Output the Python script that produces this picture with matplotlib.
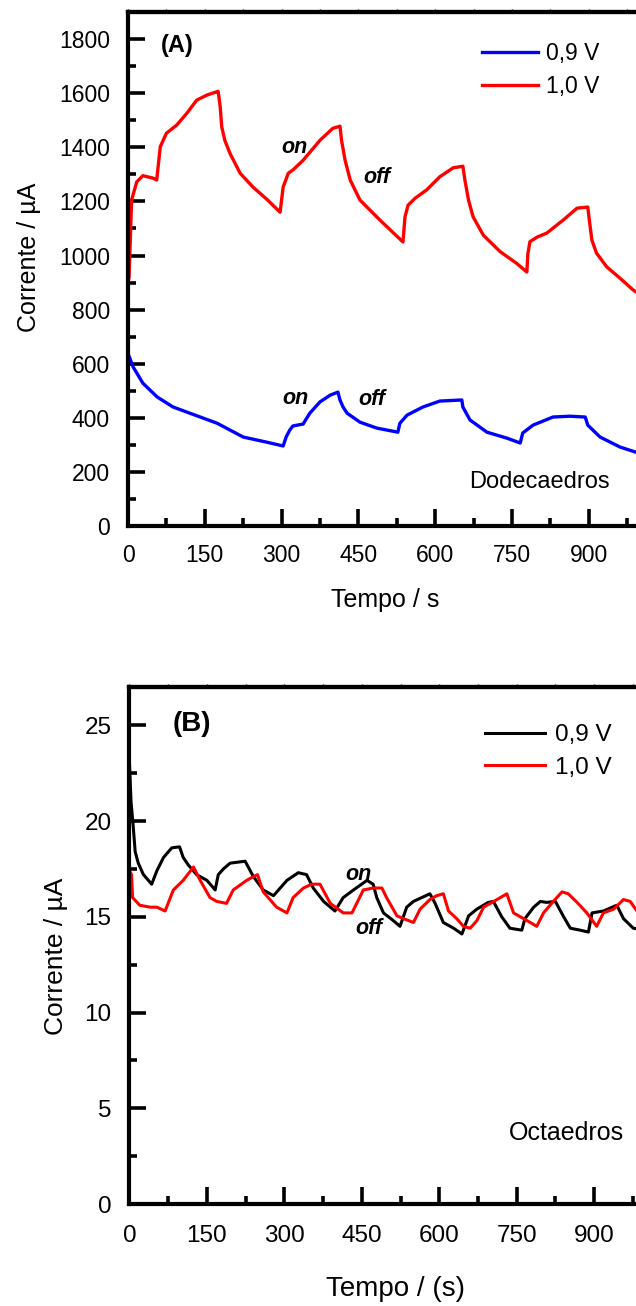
"""Chronoamperometry with light on/off cycles for dodecahedra and octahedra."""

import matplotlib

matplotlib.use("Agg")
import matplotlib.pyplot as plt
from matplotlib.ticker import FuncFormatter, MultipleLocator

plt.rcParams["font.family"] = ["Liberation Sans", "DejaVu Sans"]

# (A) dodecahedra, current in uA
dodeca_t_09 = [0, 2, 10, 29, 57, 88, 141, 174, 225, 271, 303, 309, 316, 322, 342,
               355, 375, 395, 410, 414, 420, 428, 453, 486, 527, 531, 545, 576,
               609, 652, 654, 668, 701, 740, 766, 771, 791, 830, 863, 893, 898,
               922, 961, 992, 1030, 1080]
dodeca_i_09 = [635, 628, 588, 528, 477, 440, 403, 380, 329, 310, 296, 330, 355,
               370, 377, 417, 459, 484, 495, 466, 440, 417, 384, 362, 347, 380,
               410, 440, 462, 466, 440, 392, 347, 325, 307, 344, 373, 403, 406,
               403, 373, 329, 292, 273, 255, 240]

dodeca_t_10 = [0, 2, 7, 17, 29, 49, 56, 63, 75, 95, 115, 134, 154, 173, 176, 180,
               183, 189, 199, 219, 244, 271, 297, 303, 313, 322, 342, 375, 400,
               414, 417, 424, 434, 453, 492, 537, 541, 547, 561, 583, 609, 635,
               654, 658, 665, 674, 694, 727, 759, 779, 781, 785, 799, 818, 850,
               877, 898, 901, 906, 915, 935, 961, 987, 1020, 1060]
dodeca_i_10 = [900, 920, 1205, 1272, 1295, 1286, 1279, 1402, 1452, 1482, 1526,
               1574, 1593, 1605, 1607, 1550, 1476, 1426, 1378, 1304, 1253, 1208,
               1160, 1253, 1304, 1316, 1352, 1426, 1470, 1478, 1426, 1352, 1279,
               1205, 1131, 1050, 1143, 1186, 1212, 1242, 1291, 1324, 1330, 1279,
               1205, 1143, 1075, 1014, 971, 939, 1007, 1051, 1068, 1083, 1131,
               1175, 1179, 1131, 1057, 1009, 958, 916, 872, 830, 800]

# (B) octahedra, current in uA
octa_t_09 = [0, 3, 7, 11, 17, 27, 43, 53, 66, 82, 97, 104, 114, 130, 150, 166,
             172, 182, 195, 224, 230, 240, 259, 279, 292, 305, 327, 343, 356, 376,
             398, 414, 434, 460, 472, 479, 492, 511, 524, 537, 550, 582, 592, 608,
             628, 644, 657, 673, 695, 705, 721, 737, 760, 766, 783, 796, 808, 825,
             841, 854, 873, 889, 896, 918, 944, 957, 976, 1000]
octa_i_09 = [23.0, 21.0, 19.8, 18.4, 17.8, 17.2, 16.7, 17.4, 18.1, 18.6, 18.65,
             18.1, 17.7, 17.2, 16.9, 16.4, 17.2, 17.5, 17.8, 17.9, 17.6, 17.1,
             16.4, 16.1, 16.5, 16.9, 17.3, 17.2, 16.5, 15.8, 15.3, 16.0, 16.4,
             16.9, 16.7, 16.0, 15.2, 14.8, 14.5, 15.5, 15.8, 16.2, 15.7, 14.7,
             14.4, 14.1, 15.05, 15.4, 15.75, 15.8, 15.0, 14.4, 14.3, 14.9, 15.5,
             15.8, 15.75, 15.8, 15.0, 14.4, 14.3, 14.2, 15.2, 15.3, 15.6, 14.9,
             14.4, 14.3]

octa_t_10 = [0, 4, 6, 20, 40, 53, 69, 85, 104, 124, 137, 156, 169, 188, 201, 227,
             237, 248, 259, 285, 305, 317, 337, 353, 369, 389, 414, 431, 453, 472,
             489, 498, 518, 531, 550, 563, 582, 595, 608, 618, 634, 647, 660, 673,
             686, 712, 731, 744, 770, 789, 802, 821, 838, 850, 867, 886, 905, 918,
             938, 957, 970, 983, 1000]
octa_i_10 = [17.4, 17.2, 16.0, 15.6, 15.5, 15.5, 15.3, 16.4, 16.9, 17.6, 16.9,
             16.0, 15.8, 15.7, 16.4, 16.9, 17.05, 17.2, 16.3, 15.5, 15.2, 16.0,
             16.5, 16.7, 16.7, 15.7, 15.2, 15.2, 16.4, 16.5, 16.5, 16.0, 15.05,
             14.9, 14.7, 15.4, 15.9, 16.1, 16.2, 15.3, 14.9, 14.5, 14.4, 14.8,
             15.5, 15.9, 16.2, 15.2, 14.8, 14.5, 15.2, 15.8, 16.3, 16.2, 15.75,
             15.2, 14.5, 15.2, 15.4, 15.9, 15.8, 15.3, 15.1]

series_labels = ["0,9 V", "1,0 V"]

ITALIC_BOLD = dict(fontweight="bold", style="italic", ha="center", va="center")


def hide_far_labels(value, pos):
    # labels past 1000 s fall outside the figure
    return "" if value > 1000 else f"{value:.0f}"


def style_axes(ax, ymajor, yminor, fs, xpad):
    for side in ("left", "bottom", "top", "right"):
        ax.spines[side].set_linewidth(3)
    ax.xaxis.set_major_locator(MultipleLocator(150))
    ax.xaxis.set_minor_locator(MultipleLocator(75))
    ax.xaxis.set_major_formatter(FuncFormatter(hide_far_labels))
    ax.yaxis.set_major_locator(MultipleLocator(ymajor))
    ax.yaxis.set_minor_locator(MultipleLocator(yminor))
    ax.tick_params(which="major", direction="in", length=12, width=2.6,
                   labelsize=fs, pad=13)
    ax.tick_params(axis="x", which="major", pad=xpad)
    ax.tick_params(which="minor", direction="in", length=6, width=2.6)
    ax.tick_params(top=False, right=False)
    top = ax.secondary_xaxis("top")
    top.xaxis.set_major_locator(MultipleLocator(75))
    top.tick_params(direction="out", length=2, width=1, labeltop=False)
    top.spines["top"].set_linewidth(3)


fig = plt.figure(figsize=(6.36, 13.06), dpi=100)

# ---- (A) dodecaedros
ax1 = fig.add_axes([0.2013, 0.5972, 0.966, 0.3936])
ax1.plot(dodeca_t_09, dodeca_i_09, color="#0000ff", lw=2.4, label=series_labels[0])
ax1.plot(dodeca_t_10, dodeca_i_10, color="#ff0000", lw=2.4, label=series_labels[1])
ax1.set_xlim(0, 1200)
ax1.set_ylim(0, 1900)
style_axes(ax1, 200, 100, 16.5, 13)
ax1.set_xlabel("Tempo / s", fontsize=18)
ax1.xaxis.set_label_coords(0.4186, -0.121)
ax1.set_ylabel("Corrente / \u00b5A", fontsize=18)
ax1.yaxis.set_label_coords(-0.142, 0.523)
ax1.legend(loc="upper left", bbox_to_anchor=(0.5765, 0.9407), frameon=False,
           fontsize=16.5, handlelength=2.45, handletextpad=0.35,
           labelspacing=0.42, borderpad=0, borderaxespad=0)
ax1.text(96, 1778, "(A)", fontsize=17, fontweight="bold", ha="center", va="center")
ax1.text(326, 1400, "on", fontsize=15.5, **ITALIC_BOLD)
ax1.text(486, 1290, "off", fontsize=15.5, **ITALIC_BOLD)
ax1.text(328, 473, "on", fontsize=15.5, **ITALIC_BOLD)
ax1.text(477, 466, "off", fontsize=15.5, **ITALIC_BOLD)
ax1.text(803, 163, "Dodecaedros", fontsize=17, ha="center", va="center")

# ---- (B) octaedros
ax2 = fig.add_axes([0.2036, 0.0781, 0.974, 0.3959])
ax2.plot(octa_t_09, octa_i_09, color="black", lw=2.2, label=series_labels[0])
ax2.plot(octa_t_10, octa_i_10, color="#ff0000", lw=2.2, label=series_labels[1])
ax2.set_xlim(0, 1200)
ax2.set_ylim(0, 27)
style_axes(ax2, 5, 2.5, 17.5, 15)
ax2.set_xlabel("Tempo / (s)", fontsize=20)
ax2.xaxis.set_label_coords(0.429, -0.139)
ax2.set_ylabel("Corrente / \u00b5A", fontsize=19)
ax2.yaxis.set_label_coords(-0.099, 0.48)
ax2.legend(loc="upper left", bbox_to_anchor=(0.574, 0.928), frameon=False,
           fontsize=17.5, handlelength=2.47, handletextpad=0.41,
           labelspacing=0.43, borderpad=0, borderaxespad=0)
ax2.text(121, 25.05, "(B)", fontsize=20, fontweight="bold", ha="center", va="center")
ax2.text(443, 17.2, "on", fontsize=15.5, **ITALIC_BOLD)
ax2.text(464, 14.4, "off", fontsize=15.5, **ITALIC_BOLD)
ax2.text(846, 3.7, "Octaedros", fontsize=18, ha="center", va="center")

fig.savefig("out.png", dpi=100)
